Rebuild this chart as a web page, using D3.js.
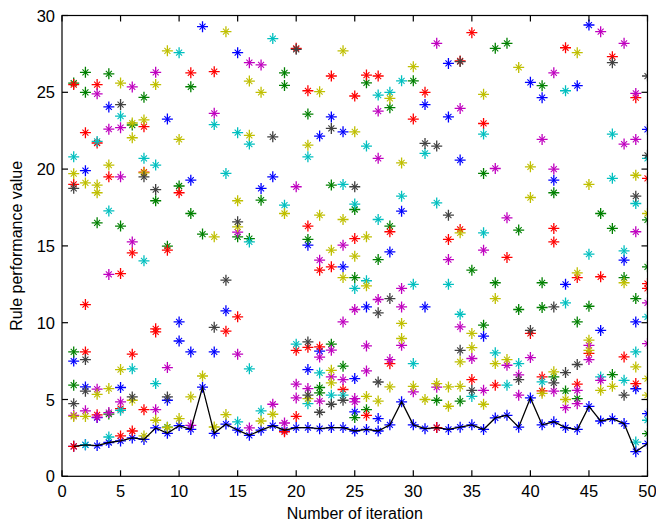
<!DOCTYPE html>
<html><head><meta charset="utf-8">
<script src="https://cdn.jsdelivr.net/npm/d3@7/dist/d3.min.js"></script>
<style>body{margin:0;background:#fff}svg{display:block}text{font-family:"Liberation Sans",Arial,sans-serif}</style>
</head><body><svg id="c" width="656" height="525"></svg>
<script>
const xTicks=[0,5,10,15,20,25,30,35,40,45,50];
const yTicks=[0,5,10,15,20,25,30];
const best=[1.95,2.05,2.0,2.2,2.3,2.5,2.4,3.15,2.8,3.3,3.05,5.8,2.8,3.4,3.0,2.67,3.0,3.3,3.0,3.17,3.17,3.1,3.17,3.17,2.95,3.05,2.95,3.35,4.85,3.35,3.1,3.17,3.05,3.2,3.35,3.05,3.8,3.97,3.2,5.1,3.35,3.55,3.17,3.05,4.55,3.6,3.75,3.43,1.6,2.13];
const bluePts=[[1,7.5],[2,19.9],[2,5.82],[3,3.82],[4,24.05],[5,5.78],[9,23.26],[9,4.95],[10,10.05],[10,8.81],[11,19.28],[11,8.1],[12,29.27],[13,8.1],[14,10.77],[15,27.58],[17,18.74],[18,19.5],[21,15.05],[21,6.95],[22,22.15],[22,8.15],[23,23.4],[24,22.43],[24,13.64],[25,6.36],[25,4.19],[26,11.03],[27,3.76],[28,14.61],[29,17.26],[31,24.2],[31,11.03],[33,26.88],[33,23.4],[34,20.59],[36,9.12],[40,25.65],[41,24.65],[42,19.28],[43,12.5],[44,25.43],[45,29.38],[46,9.5],[48,14.07],[49,10.05],[49,5.7],[50,22.58],[50,4.08]];
const greenPts=[[1,25.6],[1,8.1],[1,5.93],[2,26.3],[2,25.0],[3,16.5],[4,26.2],[4,4.05],[5,16.29],[6,22.87],[7,24.67],[8,17.94],[9,14.98],[9,3.2],[10,18.9],[11,25.36],[11,17.11],[12,15.77],[15,15.59],[16,15.48],[17,17.98],[19,26.27],[19,25.45],[21,23.58],[21,15.42],[22,5.78],[22,5.43],[23,18.96],[23,8.6],[24,7.17],[25,17.37],[25,12.94],[25,3.82],[26,25.62],[26,4.34],[27,14.11],[28,24.0],[28,16.29],[30,25.75],[32,4.95],[34,4.9],[35,13.42],[36,19.72],[36,9.84],[37,27.86],[37,12.6],[38,28.19],[39,16.03],[39,10.86],[41,25.43],[41,12.6],[41,10.99],[42,18.46],[42,6.47],[43,5.56],[44,10.05],[44,5.06],[45,11.07],[46,17.11],[47,16.14],[47,6.62],[48,12.94],[49,11.57],[50,16.7],[50,13.64],[50,2.78]];
const redPts=[[1,25.5],[1,19.0],[1,1.95],[2,22.37],[2,11.18],[2,8.1],[3,25.5],[3,21.7],[3,4.0],[4,19.5],[5,13.2],[5,4.4],[5,2.63],[6,14.55],[6,7.95],[6,2.95],[7,22.76],[7,19.8],[7,4.34],[8,9.6],[8,9.4],[9,14.72],[10,18.46],[11,26.27],[13,26.34],[14,9.45],[15,10.38],[19,2.9],[20,27.86],[20,8.2],[20,3.9],[21,25.1],[21,16.29],[21,8.4],[22,13.42],[22,8.42],[23,26.06],[23,13.64],[24,5.65],[25,24.76],[25,15.48],[26,26.12],[26,3.97],[27,26.06],[28,15.92],[28,7.33],[30,23.26],[31,25.0],[32,3.17],[33,15.42],[34,27.04],[34,16.07],[35,28.88],[35,6.3],[36,22.97],[37,5.93],[38,14.25],[40,9.3],[41,6.47],[41,5.56],[42,16.14],[42,15.26],[43,27.9],[44,12.94],[44,6.0],[45,8.0],[46,12.99],[47,27.32],[48,7.77],[49,24.65],[49,6.04],[50,19.4],[50,12.55],[50,12.23]];
const cyanPts=[[1,20.8],[2,2.05],[3,21.8],[4,17.28],[4,2.56],[5,23.45],[5,4.3],[6,7.0],[7,20.7],[7,14.03],[8,20.26],[8,6.04],[10,27.58],[13,22.9],[14,19.72],[15,22.37],[15,3.54],[16,21.63],[16,15.26],[16,7.0],[17,4.26],[18,28.5],[19,17.65],[20,8.6],[21,20.8],[21,4.73],[22,6.73],[23,5.28],[24,19.0],[24,5.28],[25,17.72],[25,12.23],[26,21.5],[26,12.73],[27,24.82],[27,16.72],[28,25.0],[29,25.75],[29,18.24],[30,12.5],[30,7.34],[31,21.02],[32,17.8],[33,12.5],[34,10.55],[35,5.2],[36,22.28],[36,15.85],[37,8.04],[38,5.93],[39,7.34],[41,6.15],[43,25.1],[43,11.29],[45,14.46],[46,6.47],[47,22.28],[47,19.4],[48,14.68],[48,6.25],[49,17.76],[49,8.1],[49,2.23],[50,20.7],[50,10.38],[50,3.65]];
const magentaPts=[[1,3.97],[2,4.26],[3,24.9],[3,5.67],[3,3.85],[4,22.6],[4,13.14],[4,4.15],[5,22.7],[5,19.5],[5,4.84],[6,25.35],[6,15.26],[8,26.3],[8,4.34],[9,7.08],[11,3.32],[13,23.63],[15,15.9],[15,7.95],[16,26.93],[16,3.15],[17,26.78],[18,4.69],[19,3.47],[20,18.85],[20,6.0],[20,5.1],[21,5.71],[22,14.07],[22,7.76],[22,4.9],[23,8.21],[23,6.47],[24,15.05],[24,10.05],[24,6.3],[25,10.86],[25,5.06],[25,4.84],[26,8.49],[26,6.86],[27,23.78],[27,20.7],[27,11.51],[28,7.6],[29,12.23],[29,11.03],[29,8.53],[30,5.5],[32,28.19],[32,5.8],[33,14.11],[34,23.95],[34,9.73],[35,7.67],[36,14.72],[36,5.6],[37,20.04],[38,16.83],[38,7.23],[39,6.6],[39,5.28],[40,7.73],[41,21.93],[42,26.27],[42,20.0],[42,5.54],[43,4.47],[44,5.6],[44,4.73],[45,8.53],[45,7.6],[46,28.95],[46,6.25],[48,28.19],[48,21.63],[49,24.93],[49,21.93],[49,15.92],[50,11.29],[50,8.64]];
const yellowPts=[[1,19.7],[1,3.9],[2,19.1],[2,3.9],[3,18.96],[3,18.46],[3,5.34],[4,20.26],[4,5.71],[5,25.6],[5,6.95],[6,23.0],[6,22.04],[6,4.95],[7,23.2],[7,19.75],[7,2.63],[8,25.5],[8,3.65],[9,27.7],[9,3.17],[10,21.93],[10,3.76],[11,5.17],[12,6.53],[13,15.59],[13,3.21],[14,28.95],[14,4.02],[15,17.94],[15,16.24],[16,25.73],[16,22.2],[17,25.0],[17,3.6],[18,4.04],[19,17.11],[21,21.56],[21,5.06],[22,25.04],[22,17.0],[23,14.72],[23,6.9],[23,6.08],[24,27.7],[24,16.72],[24,12.94],[25,22.43],[25,14.33],[26,15.59],[26,12.4],[26,5.2],[27,4.9],[28,24.6],[28,5.82],[29,20.4],[29,9.95],[29,8.97],[30,26.67],[30,5.86],[31,5.0],[32,6.04],[33,5.82],[33,4.56],[34,15.85],[34,7.45],[34,5.86],[35,9.3],[35,8.38],[36,24.87],[36,4.69],[37,11.57],[37,7.34],[38,7.6],[39,26.62],[40,20.15],[40,18.15],[41,5.4],[42,6.8],[43,5.0],[44,27.58],[44,13.25],[45,19.0],[45,8.86],[45,8.2],[46,5.6],[47,5.86],[48,12.6],[49,19.6],[49,7.12],[50,17.11],[50,6.36],[50,5.28]];
const grayPts=[[1,18.75],[1,4.73],[2,7.6],[2,5.54],[5,24.2],[6,5.17],[7,19.5],[8,18.67],[9,5.17],[13,9.7],[14,12.77],[15,16.57],[18,22.1],[20,27.8],[21,8.75],[21,5.28],[22,4.17],[23,22.65],[23,4.69],[24,4.95],[25,18.85],[27,10.64],[27,6.14],[28,11.57],[31,21.67],[32,21.5],[33,17.0],[34,27.0],[34,8.2],[35,5.6],[39,6.3],[40,9.5],[42,11.03],[42,6.08],[43,6.75],[44,7.28],[47,26.93],[48,5.28],[49,18.24],[50,26.06],[50,20.9]];

const series=[
 {pts:bluePts,color:"#0000ff"},
 {pts:greenPts,color:"#008000"},
 {pts:redPts,color:"#ff0000"},
 {pts:cyanPts,color:"#00bfbf"},
 {pts:magentaPts,color:"#bf00bf"},
 {pts:yellowPts,color:"#bfbf00"},
 {pts:grayPts,color:"#404040"}
];

const L=62,R=647.5,T=15.5,B=476.3;
const svg=d3.select("#c");
const x=d3.scaleLinear().domain([0,50]).range([L,R]);
const y=d3.scaleLinear().domain([0,30]).range([B,T]);

svg.append("defs").append("clipPath").attr("id","clip")
 .append("rect").attr("x",L).attr("y",T).attr("width",R-L).attr("height",B-T);

const r=5.5, d=3.0;
const plusPath=`M${-r},0L${r},0M0,${-r}L0,${r}`;
const crossPath=`M${-d},${-d}L${d},${d}M${-d},${d}L${d},${-d}`;

const plot=svg.append("g").attr("clip-path","url(#clip)");
function drawStars(g,data,px,py,color){
 const m=g.append("g").selectAll("g").data(data).join("g")
  .attr("transform",(p,i)=>`translate(${px(p,i)},${py(p,i)})`)
  .attr("stroke",color).attr("fill","none");
 m.append("path").attr("d",plusPath).attr("stroke-width",1.3);
 m.append("path").attr("d",crossPath).attr("stroke-width",1.1);
}
drawStars(plot,best,(v,i)=>x(i+1),v=>y(v),"#0000ff");
series.forEach(s=>drawStars(plot,s.pts,p=>x(p[0]),p=>y(p[1]),s.color));
plot.append("path").datum(best)
 .attr("d",d3.line().x((v,i)=>x(i+1)).y(v=>y(v)))
 .attr("fill","none").attr("stroke","#000").attr("stroke-width",1.3);

// axes box
const ax=svg.append("g").attr("stroke","#000").attr("stroke-width",1.2);
ax.append("rect").attr("x",L).attr("y",T).attr("width",R-L).attr("height",B-T).attr("fill","none");
const tl=6;
xTicks.forEach(t=>{
 ax.append("line").attr("x1",x(t)).attr("x2",x(t)).attr("y1",B).attr("y2",B-tl);
 ax.append("line").attr("x1",x(t)).attr("x2",x(t)).attr("y1",T).attr("y2",T+tl);
});
yTicks.forEach(t=>{
 ax.append("line").attr("x1",L).attr("x2",L+tl).attr("y1",y(t)).attr("y2",y(t));
 ax.append("line").attr("x1",R).attr("x2",R-tl).attr("y1",y(t)).attr("y2",y(t));
});
const fs=16.5;
svg.append("g").selectAll("text").data(xTicks).join("text")
 .attr("x",t=>x(t)).attr("y",497).attr("text-anchor","middle").attr("font-size",fs).text(t=>t);
svg.append("g").selectAll("text").data(yTicks).join("text")
 .attr("x",55).attr("y",t=>y(t)+6).attr("text-anchor","end").attr("font-size",fs).text(t=>t);
svg.append("text").attr("x",(L+R)/2).attr("y",519).attr("text-anchor","middle").attr("font-size",16).text("Number of iteration");
svg.append("text").attr("transform",`translate(22,${(T+B)/2}) rotate(-90)`).attr("text-anchor","middle").attr("font-size",16).text("Rule performance value");
</script></body></html>
